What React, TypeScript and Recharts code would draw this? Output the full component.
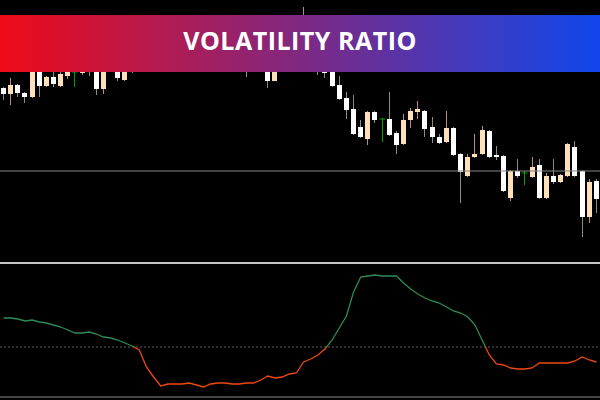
import React from 'react'
import { ComposedChart, Bar, Line, XAxis, YAxis, ReferenceLine } from 'recharts'

// candle prices (arbitrary chart units)
const open = [
  212, 206, 215, 207, 203, 238, 214, 223, 214, 224,
  228, 227, 234, 236, 211, 245, 240, 220, 238, 255,
  242, 255, 270, 248, 262, 275, 258, 244, 260, 270,
  255, 238, 252, 264, 238, 255, 240, 245, 219, 238,
  255, 270, 265, 276, 260, 245, 234, 215, 202, 191,
  173, 161, 188, 181, 181, 167, 156, 180, 188, 189,
  173, 163, 158, 172, 146, 124, 143, 146, 169, 145,
  144, 102, 129, 127, 123, 135, 102, 124, 118, 124,
  153, 129, 83, 119,
]
const close = [
  206, 215, 207, 203, 230, 214, 223, 216, 226, 232,
  228, 230, 242, 211, 240, 260, 222, 236, 250, 240,
  260, 270, 250, 265, 275, 255, 245, 262, 270, 252,
  240, 254, 264, 245, 250, 242, 256, 219, 240, 255,
  270, 258, 278, 260, 240, 227, 214, 201, 190, 166,
  163, 188, 180, 181, 165, 155, 180, 189, 191, 171,
  163, 157, 172, 145, 128, 143, 146, 170, 143, 143,
  109, 129, 124, 127, 133, 102, 124, 118, 125, 156,
  124, 83, 118, 101,
]
const high = [
  213, 222, 216, 208, 232, 244, 224, 230, 232, 236,
  236, 236, 246, 240, 244, 265, 248, 242, 256, 260,
  265, 275, 274, 270, 280, 278, 262, 268, 274, 275,
  260, 260, 270, 268, 255, 260, 264, 250, 246, 262,
  276, 274, 293, 282, 264, 250, 238, 224, 208, 205,
  180, 189, 189, 182, 208, 169, 186, 192, 199, 190,
  183, 166, 189, 173, 147, 146, 166, 174, 170, 154,
  145, 130, 141, 129, 143, 141, 127, 141, 126, 157,
  159, 130, 121, 121,
]
const low = [
  200, 195, 203, 197, 202, 203, 213, 213, 213, 221,
  213, 225, 224, 205, 206, 238, 219, 219, 227, 235,
  238, 252, 245, 244, 258, 250, 238, 240, 255, 248,
  234, 232, 248, 240, 223, 236, 234, 212, 219, 234,
  250, 252, 260, 254, 225, 222, 213, 200, 181, 165,
  162, 155, 177, 158, 164, 146, 155, 172, 181, 163,
  157, 156, 157, 144, 97, 123, 142, 145, 142, 140,
  108, 99, 122, 115, 122, 101, 101, 116, 117, 123,
  123, 63, 77, 87,
]
// volatility ratio indicator
const vr = [
  0.79, 0.79, 0.78, 0.76, 0.77, 0.75, 0.74, 0.72, 0.70, 0.67,
  0.64, 0.64, 0.65, 0.63, 0.60, 0.59, 0.57, 0.54, 0.51, 0.47,
  0.30, 0.20, 0.11, 0.13, 0.13, 0.13, 0.14, 0.12, 0.10, 0.13,
  0.14, 0.14, 0.13, 0.13, 0.14, 0.14, 0.17, 0.21, 0.19, 0.20,
  0.23, 0.24, 0.35, 0.38, 0.42, 0.48, 0.57, 0.69, 0.81, 1.05,
  1.20, 1.21, 1.22, 1.21, 1.21, 1.21, 1.14, 1.08, 1.03, 0.99,
  0.96, 0.94, 0.90, 0.86, 0.84, 0.80, 0.72, 0.57, 0.42, 0.33,
  0.32, 0.29, 0.28, 0.28, 0.29, 0.34, 0.34, 0.34, 0.34, 0.34,
  0.36, 0.40, 0.37, 0.35,
]
const tickBars = [1, 5, 9, 13, 17, 21, 25, 29, 33, 37, 41, 45, 49, 53, 57, 61, 65, 69, 73, 77, 81]
const priceLine = 129
const vrLevel = 0.5

const data = open.map((o, i) => ({
  idx: i,
  open: o,
  close: close[i],
  high: high[i],
  low: low[i],
  vr: vr[i],
}))

const vrMax = Math.max(...vr)
const vrMin = Math.min(...vr)
const splitAt = (vrMax - vrLevel) / (vrMax - vrMin)

const COLORS = {
  bull: '#ffdfba',
  bullWick: '#b98a86',
  bear: '#ffffff',
  bearWick: '#8c8c8c',
  doji: '#0a9a0a',
  up: '#2e8b57',
  down: '#f04810',
}

function Candle(props: any) {
  const { x, y, width, height, payload } = props
  const { open, close, high, low } = payload
  const top = Math.min(y, y + height)
  const h = Math.abs(height)
  const ratio = h / (high - low)
  const cx = Math.floor(x + width / 2) + 0.5
  const bodyTop = top + (high - Math.max(open, close)) * ratio
  const bodyBottom = top + (high - Math.min(open, close)) * ratio

  if (open === close) {
    return (
      <g>
        <line x1={cx} x2={cx} y1={top} y2={top + h} stroke={COLORS.doji} />
        <line x1={cx - 3} x2={cx + 3} y1={bodyTop} y2={bodyTop} stroke={COLORS.doji} />
      </g>
    )
  }
  const bull = close > open
  return (
    <g>
      <line x1={cx} x2={cx} y1={top} y2={top + h} stroke={bull ? COLORS.bullWick : COLORS.bearWick} />
      <rect
        x={cx - 2.5}
        y={bodyTop}
        width={5}
        height={Math.max(1, bodyBottom - bodyTop)}
        fill={bull ? COLORS.bull : COLORS.bear}
      />
    </g>
  )
}

export default function App() {
  return (
    <div
      style={{
        position: 'absolute',
        left: 0,
        top: 0,
        width: 600,
        height: 400,
        background: '#000',
        overflow: 'hidden',
      }}
    >
      <ComposedChart width={600} height={400} data={data} margin={{ top: 0, right: 0, bottom: 0, left: 0 }}>
        <defs>
          <linearGradient id="vrGrad" x1="0" y1="0" x2="0" y2="1">
            <stop offset={splitAt} stopColor={COLORS.up} />
            <stop offset={splitAt} stopColor={COLORS.down} />
          </linearGradient>
        </defs>
        <XAxis
          dataKey="idx"
          type="category"
          ticks={tickBars}
          tick={false}
          tickSize={2}
          height={3}
          axisLine={{ stroke: '#8a8a8a' }}
          tickLine={{ stroke: '#8a8a8a' }}
        />
        <YAxis yAxisId="price" hide domain={[-97, 300]} />
        <YAxis yAxisId="vr" hide domain={[0, 3.97]} />
        <ReferenceLine yAxisId="price" y={priceLine} stroke="#858585" />
        <ReferenceLine yAxisId="vr" y={vrLevel} stroke="#5e5e5e" strokeDasharray="2 2" />
        <Bar
          yAxisId="price"
          dataKey={(d: any) => [d.low, d.high]}
          barSize={5}
          shape={Candle}
          isAnimationActive={false}
        />
        <Line
          yAxisId="vr"
          dataKey="vr"
          type="linear"
          stroke="url(#vrGrad)"
          strokeWidth={1.3}
          dot={false}
          activeDot={false}
          isAnimationActive={false}
        />
      </ComposedChart>

      {/* panel separator */}
      <div style={{ position: 'absolute', left: 0, top: 262, width: 600, height: 2, background: '#c4c4c4' }} />

      {/* title banner */}
      <div
        style={{
          position: 'absolute',
          left: 0,
          top: 15,
          width: 600,
          height: 57,
          boxSizing: 'border-box',
          paddingBottom: 8,
          background: 'linear-gradient(to right, #ef0a18, #1047ec)',
          display: 'flex',
          alignItems: 'center',
          justifyContent: 'center',
          color: '#fff',
          fontFamily: '"Open Sans", sans-serif',
          fontWeight: 700,
          fontSize: 25,
          letterSpacing: 0.5,
        }}
      >
        VOLATILITY RATIO
      </div>
    </div>
  )
}
